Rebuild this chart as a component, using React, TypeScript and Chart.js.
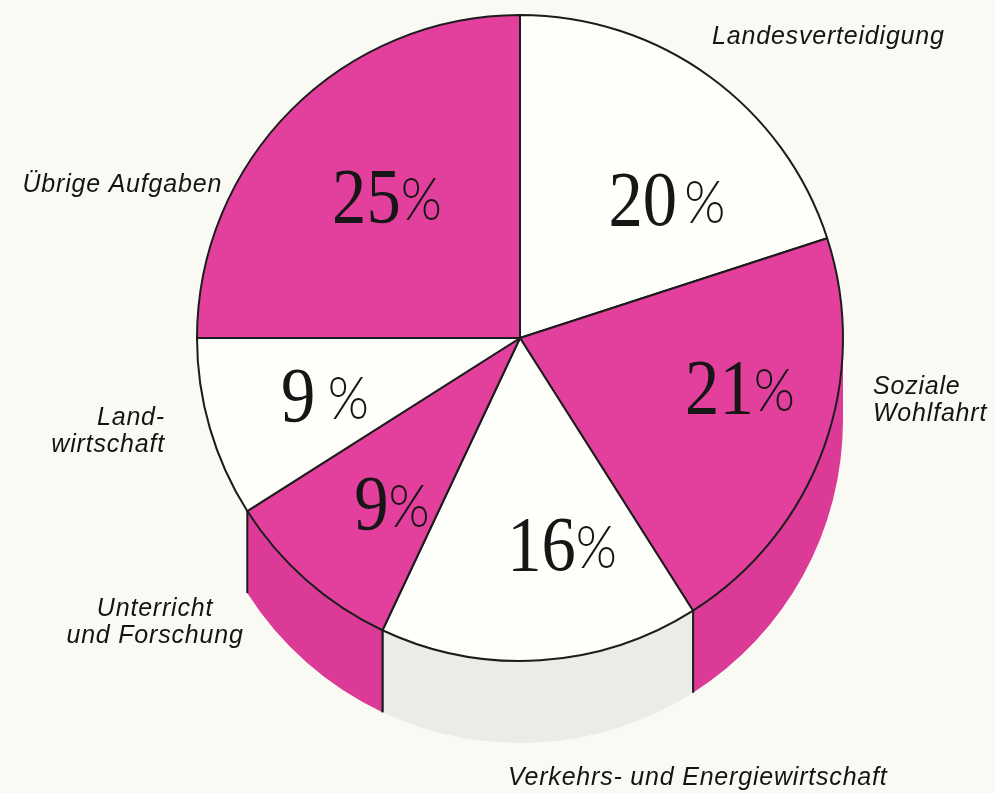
import { useEffect, useRef } from 'react';
import { Chart, registerables } from 'chart.js';

Chart.register(...registerables);

// ---- data ----
const categories = [
  'Landesverteidigung',
  'Soziale Wohlfahrt',
  'Verkehrs- und Energiewirtschaft',
  'Unterricht und Forschung',
  'Landwirtschaft',
  'Übrige Aufgaben',
];
const shares = [20, 21, 16, 9, 9, 25];
const categoryLines = [
  ['Landesverteidigung'],
  ['Soziale', 'Wohlfahrt'],
  ['Verkehrs- und Energiewirtschaft'],
  ['Unterricht', 'und Forschung'],
  ['Land-', 'wirtschaft'],
  ['Übrige Aufgaben'],
];

// ---- styles ----
const MAGENTA = '#e3409e';
const PAPER = '#fafaf4';
const WHITE = '#fefefa';
const topColors = [WHITE, MAGENTA, WHITE, MAGENTA, WHITE, MAGENTA];
const sideColors: (string | null)[] = [null, '#db3b97', '#ebebe8', '#db3b97', null, null];
const SIDE_DEPTH = 82;
// [angle offset from slice middle (deg), radius fraction]
const valueLabelPlacement = [
  [10.4, 0.628],
  [-7.5, 0.697],
  [-8, 0.648],
  [-3.4, 0.644],
  [0.2, 0.628],
  [2.1, 0.605],
];
const valueGap = [8, 0, 0, 0, 14, 0];
// angle from top (deg), radius fraction, alignment
const categoryPlacement: { angle: number; r: number; align: CanvasTextAlign }[] = [
  { angle: 45.7, r: 1.334, align: 'center' },
  { angle: 100.1, r: 1.11, align: 'left' },
  { angle: 158, r: 1.469, align: 'center' },
  { angle: 232.1, r: 1.432, align: 'center' },
  { angle: 255.2, r: 1.137, align: 'right' },
  { angle: 297.2, r: 1.037, align: 'right' },
];

const sidePlugin = {
  id: 'pieSide',
  beforeDatasetsDraw(chart: any) {
    const meta = chart.getDatasetMeta(0);
    const ctx = chart.ctx as CanvasRenderingContext2D;
    ctx.save();
    meta.data.forEach((arc: any, i: number) => {
      const col = sideColors[i];
      if (!col) return;
      const { x, y, startAngle, endAngle, outerRadius: R } = arc.getProps(
        ['x', 'y', 'startAngle', 'endAngle', 'outerRadius'],
        true
      );
      const a = Math.max(startAngle, 0);
      const b = Math.min(endAngle, Math.PI);
      if (a >= b) return;
      ctx.beginPath();
      ctx.moveTo(x + R * Math.cos(a), y + R * Math.sin(a));
      ctx.arc(x, y, R, a, b, false);
      ctx.lineTo(x + R * Math.cos(b), y + R * Math.sin(b) + SIDE_DEPTH);
      ctx.arc(x, y + SIDE_DEPTH, R, b, a, true);
      ctx.closePath();
      ctx.fillStyle = col;
      ctx.fill();
      ctx.strokeStyle = '#1c1c1c';
      ctx.lineWidth = 2;
      [startAngle, endAngle].forEach((ang: number) => {
        if (ang > 0.001 && ang < Math.PI - 0.001) {
          ctx.beginPath();
          ctx.moveTo(x + R * Math.cos(ang), y + R * Math.sin(ang));
          ctx.lineTo(x + R * Math.cos(ang), y + R * Math.sin(ang) + SIDE_DEPTH);
          ctx.stroke();
        }
      });
    });
    ctx.restore();
  },
};

const labelPlugin = {
  id: 'pieLabels',
  afterDatasetsDraw(chart: any) {
    const meta = chart.getDatasetMeta(0);
    const ctx = chart.ctx as CanvasRenderingContext2D;
    const first = meta.data[0];
    const { x: cx, y: cy, outerRadius: R } = first.getProps(['x', 'y', 'outerRadius'], true);
    ctx.save();
    // value labels
    meta.data.forEach((arc: any, i: number) => {
      const { startAngle, endAngle } = arc.getProps(['startAngle', 'endAngle'], true);
      const [off, rf] = valueLabelPlacement[i];
      const mid = (startAngle + endAngle) / 2 + (off * Math.PI) / 180;
      const px = cx + Math.cos(mid) * R * rf;
      const py = cy + Math.sin(mid) * R * rf;
      const num = String(chart.data.datasets[0].data[i]);
      const numFont = '78px "Liberation Serif", "DejaVu Serif", serif';
      const pctFont = '300 60px Lato, "DejaVu Sans", sans-serif';
      ctx.font = numFont;
      const wNum = ctx.measureText(num).width;
      ctx.font = pctFont;
      const wPct = ctx.measureText('%').width;
      const sx = 0.88;
      const total = wNum + valueGap[i] + wPct;
      ctx.save();
      ctx.translate(px, py);
      ctx.scale(sx, 1);
      ctx.fillStyle = '#161616';
      ctx.textBaseline = 'alphabetic';
      ctx.textAlign = 'left';
      ctx.font = numFont;
      ctx.fillText(num, -total / 2, 27);
      ctx.font = pctFont;
      ctx.fillText('%', -total / 2 + wNum + valueGap[i], 25);
      ctx.restore();
    });
    // category labels
    ctx.fillStyle = '#141414';
    ctx.font = 'italic 25px "Liberation Sans", Arial, sans-serif';
    (ctx as any).letterSpacing = '0.8px';
    ctx.textBaseline = 'middle';
    const lh = 27;
    categoryLines.forEach((lines, i) => {
      const p = categoryPlacement[i];
      const th = (p.angle * Math.PI) / 180;
      const ax = cx + Math.sin(th) * R * p.r;
      const ay = cy - Math.cos(th) * R * p.r;
      ctx.textAlign = p.align;
      lines.forEach((line, k) => {
        ctx.fillText(line, ax, ay + (k - (lines.length - 1) / 2) * lh);
      });
    });
    ctx.restore();
  },
};

export default function App() {
  const ref = useRef<HTMLCanvasElement | null>(null);
  useEffect(() => {
    document.body.style.margin = '0';
    document.body.style.background = PAPER;
    if (!ref.current) return;
    const chart = new Chart(ref.current, {
      type: 'pie',
      data: {
        labels: categories,
        datasets: [
          {
            data: shares,
            backgroundColor: topColors,
            borderColor: '#1c1c1c',
            borderWidth: 2,
            hoverOffset: 0,
          },
        ],
      },
      options: {
        animation: false,
        responsive: true,
        maintainAspectRatio: false,
        layout: { padding: { top: 14, left: 196, right: 151, bottom: 131 } },
        plugins: { legend: { display: false }, tooltip: { enabled: false } },
        events: [],
      },
      plugins: [sidePlugin, labelPlugin],
    });
    return () => chart.destroy();
  }, []);
  return (
    <div style={{ width: 995, height: 793, position: 'relative', background: PAPER }}>
      <canvas ref={ref} />
    </div>
  );
}
